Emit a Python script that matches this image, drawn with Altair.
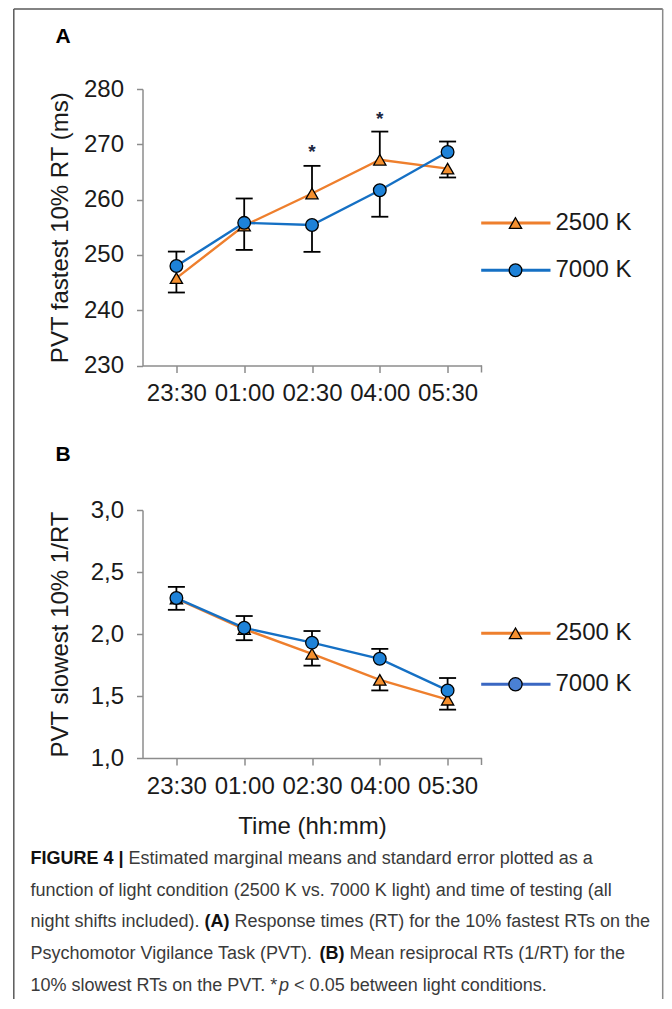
import altair as alt
import pandas as pd

# ---------------- data ----------------
times = ["23:30", "01:00", "02:30", "04:00", "05:30"]
series = ["2500 K", "7000 K"]

a_2500 = [245.8, 255.3, 261.1, 267.2, 265.6]
a_2500_se = [2.6, 4.4, 5.0, 5.1, 1.6]
a_7000 = [248.0, 255.8, 255.4, 261.7, 268.6]
a_7000_se = [2.6, 4.4, 4.85, 4.8, 1.9]

b_2500 = [2.285, 2.04, 1.84, 1.63, 1.47]
b_2500_se = [0.09, 0.09, 0.095, 0.085, 0.08]
b_7000 = [2.29, 2.05, 1.93, 1.80, 1.545]
b_7000_se = [0.09, 0.095, 0.094, 0.08, 0.10]

a_star_times = ["02:30", "04:00"]
a_star_y = [269.3, 275.3]

a_ticks = [230, 240, 250, 260, 270, 280]
b_ticks = [1.0, 1.5, 2.0, 2.5, 3.0]

a_ytitle = "PVT fastest 10% RT (ms)"
b_ytitle = "PVT slowest 10% 1/RT"
xtitle = "Time (hh:mm)"

caption_lines = [
    [("FIGURE 4 |", "bold"), (" Estimated marginal means and standard error plotted as a", "normal")],
    [("function of light condition (2500 K vs. 7000 K light) and time of testing (all", "normal")],
    [("night shifts included). ", "normal"), ("(A)", "bold"), (" Response times (RT) for the 10% fastest RTs on the", "normal")],
    [("Psychomotor Vigilance Task (PVT). ", "normal"), ("(B)", "bold"), (" Mean resiprocal RTs (1/RT) for the", "normal")],
    [("10% slowest RTs on the PVT. *", "normal"), ("p", "italic"), (" < 0.05 between light conditions.", "normal")],
]

FONT = "Liberation Sans"
one = pd.DataFrame({"k": [0]})

# approximate Helvetica/Arial advance widths (per 1000 em) for laying out caption runs
_REG = {" ": 278, "(": 333, ")": 333, ".": 278, ",": 278, "%": 889, "*": 389, "<": 584, "/": 278, "|": 260,
        "0": 556, "1": 556, "2": 556, "3": 556, "4": 556, "5": 556, "6": 556, "7": 556, "8": 556, "9": 556,
        "A": 667, "B": 667, "C": 722, "D": 722, "E": 667, "F": 611, "G": 778, "H": 722, "I": 278, "J": 500,
        "K": 667, "L": 556, "M": 833, "N": 722, "O": 778, "P": 667, "Q": 778, "R": 722, "S": 667, "T": 611,
        "U": 722, "V": 667, "W": 944, "X": 667, "Y": 667, "Z": 611,
        "a": 556, "b": 556, "c": 500, "d": 556, "e": 556, "f": 278, "g": 556, "h": 556, "i": 222, "j": 222,
        "k": 500, "l": 222, "m": 833, "n": 556, "o": 556, "p": 556, "q": 556, "r": 333, "s": 500, "t": 278,
        "u": 556, "v": 500, "w": 722, "x": 500, "y": 500, "z": 500}
_BOLD = dict(_REG)
_BOLD.update({"A": 722, "B": 722, "F": 611, "I": 278, "G": 778, "U": 722, "R": 722, "E": 667, "|": 280})


def text_width(s, size, weight):
    tab = _BOLD if weight == "bold" else _REG
    return sum(tab.get(ch, 556) for ch in s) * size / 1000.0


def deco_text(txt, x, y, size, weight="normal", style="normal", color="#1a1a1a", align="left", baseline="middle"):
    return alt.Chart(one).mark_text(
        text=txt, font=FONT, fontSize=size, fontWeight=weight, fontStyle=style,
        color=color, align=align, baseline=baseline
    ).encode(x=alt.value(x), y=alt.value(y))


def panel(v25, s25, v70, s70, ydom, yticks, label_expr, height, ytitle, letter, letter_y,
          leg_y, line_cols, fill_cols, circle_size, show_xtitle, extra):
    W = 339
    rows = []
    for i, t in enumerate(times):
        for s, v, e, ov in ((series[0], v25[i], s25[i], v70[i]), (series[1], v70[i], s70[i], v25[i])):
            end = v + e if v >= ov else v - e
            rows.append(dict(time=t, series=s, mean=v, end=end))
    df = pd.DataFrame(rows)

    x = alt.X("time:N", sort=times, scale=alt.Scale(type="point", padding=0.5),
              axis=alt.Axis(title=xtitle if show_xtitle else None, labelAngle=0, tickSize=7,
                            labelPadding=9, titleY=56.5, titleBaseline="top"))
    y = alt.Y("mean:Q", scale=alt.Scale(domain=ydom, nice=False, zero=False),
              axis=alt.Axis(values=yticks, labelExpr=label_expr, title=ytitle, tickSize=6,
                            labelPadding=13, titleX=-70, titleBaseline="bottom"))

    base = alt.Chart(df)
    err = base.mark_rule(color="black", strokeWidth=1.8).encode(x=x, y=y, y2="end:Q")
    caps = base.mark_tick(color="black", thickness=1.8, size=17, opacity=1).encode(
        x=x, y=alt.Y("end:Q"))
    lines = base.mark_line(strokeWidth=2.4).encode(
        x=x, y=y, detail="series:N",
        color=alt.Color("series:N", scale=alt.Scale(domain=series, range=line_cols), legend=None))
    pts = base.mark_point(filled=True, stroke="black", strokeWidth=1.3, opacity=1).encode(
        x=x, y=y,
        fill=alt.Fill("series:N", scale=alt.Scale(domain=series, range=fill_cols), legend=None),
        shape=alt.Shape("series:N", scale=alt.Scale(domain=series, range=["triangle-up", "circle"]),
                        legend=None),
        size=alt.Size("series:N", scale=alt.Scale(domain=series, range=[150, circle_size]), legend=None))

    endtick = alt.Chart(one).mark_rule(color="#8c8c8c", strokeWidth=1.5).encode(
        x=alt.value(W), y=alt.value(height), y2=alt.value(height + 7))

    layers = [err, caps, lines, pts, endtick]

    # legend
    shapes = ["triangle-up", "circle"]
    sizes = [150, circle_size]
    for i, s in enumerate(series):
        ly = leg_y[i]
        layers.append(alt.Chart(one).mark_rule(color=line_cols[i], strokeWidth=3).encode(
            x=alt.value(338.7), x2=alt.value(408), y=alt.value(ly)))
        layers.append(alt.Chart(one).mark_point(filled=True, fill=fill_cols[i], stroke="black",
                                                strokeWidth=1.3, opacity=1, shape=shapes[i],
                                                size=sizes[i]).encode(
            x=alt.value(373), y=alt.value(ly)))
        layers.append(deco_text(s, 413, ly, 24))

    layers.append(deco_text(letter, -87, letter_y, 21, weight="bold", color="black",
                            baseline="alphabetic"))
    layers.extend(extra)
    return alt.layer(*layers).properties(width=W, height=height)


# stars for panel A
star_df = pd.DataFrame({"time": a_star_times, "y": a_star_y})
stars = alt.Chart(star_df).mark_text(text="*", font=FONT, fontSize=19, fontWeight="bold",
                                     color="#1c2640", baseline="alphabetic", dy=10).encode(
    x=alt.X("time:N", sort=times), y=alt.Y("y:Q"))

# frame (drawn from panel A's coordinate system)
frame_col = "#5a5a5a"
frame = [
    alt.Chart(one).mark_rule(color=frame_col, strokeWidth=1.5).encode(
        x=alt.value(-128.7), x2=alt.value(520.2), y=alt.value(-80)),
    alt.Chart(one).mark_rule(color=frame_col, strokeWidth=1.5).encode(
        x=alt.value(-128.7), y=alt.value(-80), y2=alt.value(910)),
    alt.Chart(one).mark_rule(color="#8a8a8a", strokeWidth=1.5).encode(
        x=alt.value(520.2), y=alt.value(-80), y2=alt.value(910)),
]

# caption (drawn from panel B's coordinate system)
cap_layers = []
cap_size = 18
for li, segs in enumerate(caption_lines):
    xc = -112.0
    yc = 349 + 31.7 * li
    for si, (txt, kind) in enumerate(segs):
        weight = "bold" if kind == "bold" else "normal"
        style = "italic" if kind == "italic" else "normal"
        if si > 0 and kind == "italic":
            xc -= 2.5
        lead = len(txt) - len(txt.lstrip(" "))
        xc += lead * text_width(" ", cap_size, weight)
        core = txt.strip(" ")
        col = "#111111" if weight == "bold" else "#3a3a3a"
        cap_layers.append(deco_text(core, xc, yc, cap_size, weight=weight, style=style, color=col))
        xc += text_width(core, cap_size, weight)
        trail = len(txt) - len(txt.rstrip(" "))
        xc += trail * text_width(" ", cap_size, weight)

a_label = "format(datum.value, 'd')"
b_label = "replace(format(datum.value, '.1f'), '.', ',')"

panelA = panel(a_2500, a_2500_se, a_7000, a_7000_se, [230, 280], a_ticks, a_label, 276.5,
               a_ytitle, "A", -45.75, [134, 181.3], ["#EE7F2D", "#1570C4"], ["#F5902F", "#1E82D8"],
               160, False, [stars] + frame)
panelB = panel(b_2500, b_2500_se, b_7000, b_7000_se, [1.0, 3.0], b_ticks, b_label, 248,
               b_ytitle, "B", -49, [123.3, 174.3], ["#EE7F2D", "#3A67C2"], ["#F5902F", "#4A80D4"],
               175, True, cap_layers)

chart = alt.vconcat(panelA, panelB, spacing=144, bounds="flush").properties(
    padding={"left": 4.5, "top": 0, "right": 0, "bottom": 0}
).configure_view(stroke=None).configure_axis(
    grid=False, domainColor="#8c8c8c", domainWidth=1.5, tickColor="#8c8c8c", tickWidth=1.5,
    labelFont=FONT, labelFontSize=24, labelColor="#1a1a1a",
    titleFont=FONT, titleFontSize=24, titleFontWeight="normal", titleColor="#1a1a1a"
)

chart.save("out.html", embed_options={"renderer": "svg", "actions": False})
